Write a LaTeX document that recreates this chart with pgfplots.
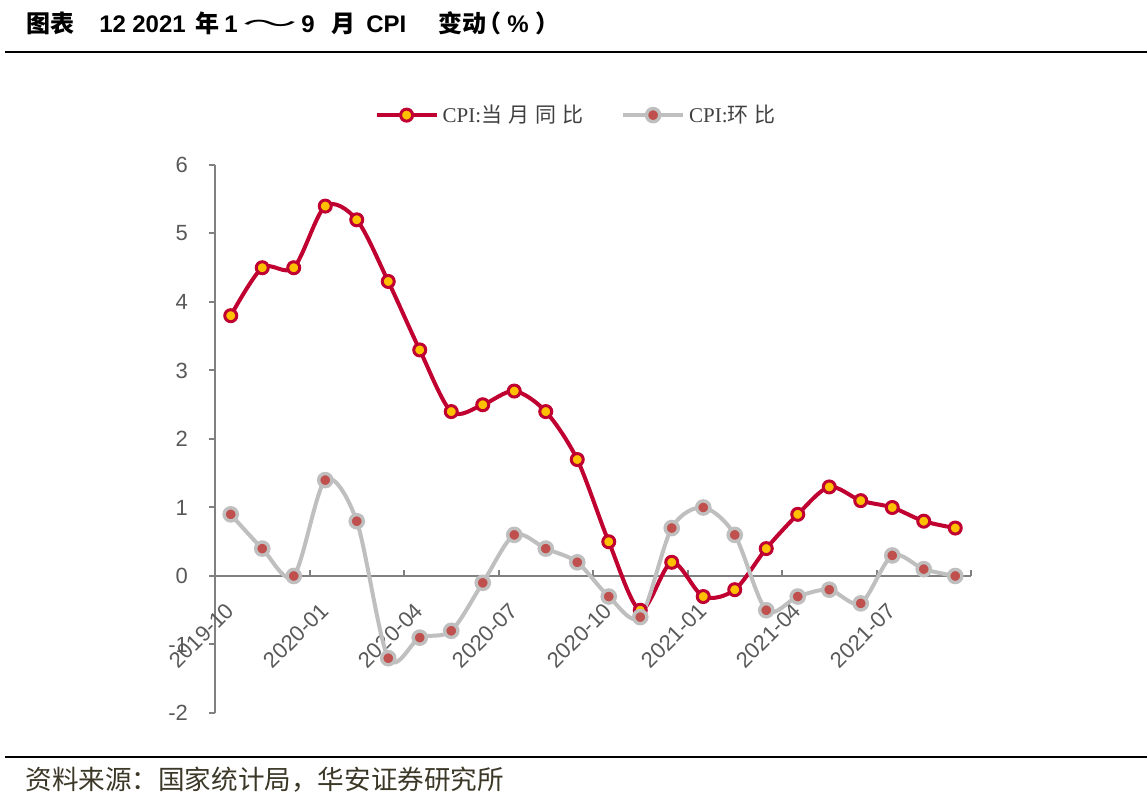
\documentclass[border=0pt]{standalone}
\usepackage{pgfplots}
\pgfplotsset{compat=1.18}
\usepackage{pgfplotstable}
\usepackage{graphicx}
\usepackage{fontspec}
\setmainfont{Liberation Serif}
\newfontfamily\arial{Liberation Sans}
\newfontfamily\cjk{Noto Sans CJK SC}
\definecolor{cpired}{RGB}{192,0,48}
\definecolor{cpiyel}{RGB}{255,192,0}
\definecolor{cpigrey}{RGB}{191,191,191}
\definecolor{dotred}{RGB}{192,80,77}
\definecolor{axgrey}{RGB}{128,128,128}
\definecolor{lblgrey}{RGB}{89,89,89}
\definecolor{legtext}{RGB}{64,64,64}
\definecolor{srcgrey}{RGB}{60,56,40}

\pgfplotstableread{
x yoy mom
0 3.8 0.9
1 4.5 0.4
2 4.5 0.0
3 5.4 1.4
4 5.2 0.8
5 4.3 -1.2
6 3.3 -0.9
7 2.4 -0.8
8 2.5 -0.1
9 2.7 0.6
10 2.4 0.4
11 1.7 0.2
12 0.5 -0.3
13 -0.5 -0.6
14 0.2 0.7
15 -0.3 1.0
16 -0.2 0.6
17 0.4 -0.5
18 0.9 -0.3
19 1.3 -0.2
20 1.1 -0.4
21 1.0 0.3
22 0.8 0.1
23 0.7 0.0
}\cpidata

\newcommand{\tf}{\fontsize{12}{14}\selectfont\bfseries}
\begin{document}
\begin{tikzpicture}[x=1pt,y=1pt]
\path[use as bounding box] (0,0) rectangle (573.5,403.5);
% title pieces
\begin{scope}[every node/.style={anchor=base west, inner sep=0pt}]
\node at (13,387) {\tf\cjk 图表};
\node at (49.5,387) {\tf\arial 12};
\node at (66,387) {\tf\arial 2021};
\node at (97.5,387) {\tf\cjk 年};
\node at (112,387) {\tf\arial 1};
\node[anchor=base] at (135,387) {\fontsize{12}{14}\selectfont\cjk\scalebox{2.3}[1]{～}};
\node at (150.5,387) {\tf\arial 9};
\node at (165.5,387) {\tf\cjk 月};
\node at (183,387) {\tf\arial CPI};
\node at (219,387) {\tf\cjk 变动};
\node at (238.5,387) {\tf\cjk （};
\node at (253.5,387) {\tf\arial\%};
\node at (267.5,387) {\tf\cjk ）};
\end{scope}
\draw[line width=1pt] (2.5,377.5) -- (573.5,377.5);
\draw[line width=1pt] (2.5,25) -- (573.5,25);
\node[anchor=base west, inner sep=0pt, text=srcgrey] at (12.5,8.5) {\cjk\fontsize{13.3}{15}\selectfont 资料来源：国家统计局，华安证券研究所};

\begin{axis}[
  at={(107.5pt,47pt)}, anchor=south west, scale only axis,
  width=378pt, height=274pt,
  xmin=-0.5, xmax=23.5, ymin=-2, ymax=6,
  axis y line*=left, axis x line*=middle,
  hide obscured x ticks=false,
  axis line style={axgrey, line width=1pt},
  xtick={-0.5,2.5,5.5,8.5,11.5,14.5,17.5,20.5,23.5},
  xticklabels={2019-10,2020-01,2020-04,2020-07,2020-10,2021-01,2021-04,2021-07,{}},
  ytick={-2,-1,0,1,2,3,4,5,6},
  yticklabels={-2,-1,0,1,2,3,4,5,6},
  tick align=center, major tick length=3pt,
  tick style={axgrey, line width=1pt},
  xtick style={yshift=1.5pt}, ytick style={xshift=-1.5pt},
  ticklabel style={font=\arial\fontsize{11}{13}\selectfont, text=lblgrey},
  xticklabel style={xshift=10pt, yshift=-11.5pt, rotate=45, anchor=east},
  yticklabel style={xshift=-8.5pt},
  clip=false,
  legend style={at={(0.479,1.091)}, anchor=center, draw=none, fill=none,
    legend columns=2, font=\fontsize{10.5}{12}\selectfont, text=legtext,
    /tikz/every even column/.append style={column sep=17pt}},
  legend cell align=left,
  legend image code/.code={\draw[mark repeat=2,mark phase=2] plot coordinates {(0pt,0pt) (15pt,0pt) (30pt,0pt)};},
]
\addplot[cpired, line width=2pt, smooth, mark=*, mark size=3pt,
  mark options={fill=cpiyel, draw=cpired, line width=1.5pt}] table[x=x,y=yoy] {\cpidata};
\addlegendentry{CPI:{\cjk 当\kern3pt 月\kern3pt 同\kern3pt 比}}
\addplot[cpigrey, line width=2pt, smooth, mark=*, mark size=3.3pt,
  mark options={fill=dotred, draw=cpigrey, line width=1.7pt}] table[x=x,y=mom] {\cpidata};
\addlegendentry{CPI:{\cjk 环\kern3pt 比}}
\end{axis}
\end{tikzpicture}
\end{document}
